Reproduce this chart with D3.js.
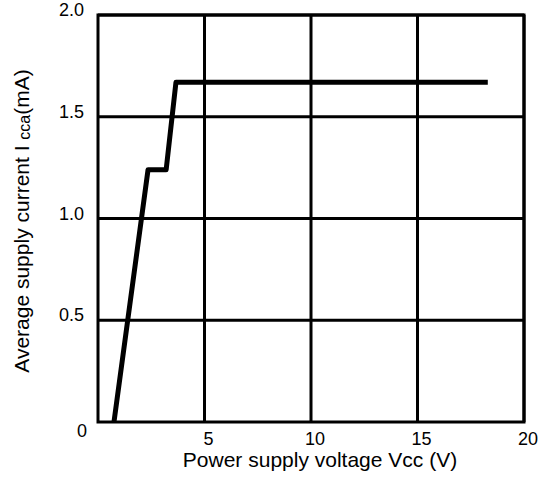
<!DOCTYPE html>
<html><head><meta charset="utf-8">
<script src="https://cdn.jsdelivr.net/npm/d3@7"></script>
<style>body{margin:0;background:#fff}svg{display:block}text{font-family:"Liberation Sans",Arial,sans-serif;fill:#000}</style>
</head><body><svg id="c" width="544" height="479"></svg>
<script>
const voltage = [0.75, 2.35, 3.2, 3.66, 18.3];
const current = [0, 1.24, 1.24, 1.67, 1.67];
const xTicks = [5, 10, 15, 20];
const yTicks = [0.5, 1.0, 1.5, 2.0];
const yTickLabels = ["0.5", "1.0", "1.5", "2.0"];

const svg = d3.select("#c");
const x = d3.scaleLinear().domain([0, 20]).range([98, 524]);
const y = d3.scaleLinear().domain([0, 2]).range([422, 15]);

// grid
svg.append("g").selectAll("line").data(xTicks).join("line")
  .attr("x1", d => x(d)).attr("x2", d => x(d)).attr("y1", y(0)).attr("y2", y(2))
  .attr("stroke", "#000").attr("stroke-width", 3);
svg.append("g").selectAll("line").data(yTicks).join("line")
  .attr("x1", x(0)).attr("x2", x(20)).attr("y1", d => y(d)).attr("y2", d => y(d))
  .attr("stroke", "#000").attr("stroke-width", 3);
svg.append("rect").attr("x", x(0)).attr("y", y(2)).attr("width", x(20) - x(0)).attr("height", y(0) - y(2))
  .attr("fill", "none").attr("stroke", "#000").attr("stroke-width", 3);

// data line
const pts = voltage.map((v, i) => [v, current[i]]);
svg.append("path").datum(pts)
  .attr("d", d3.line().x(d => x(d[0])).y(d => y(d[1])))
  .attr("fill", "none").attr("stroke", "#000").attr("stroke-width", 5)
  .attr("stroke-linejoin", "round");

// tick labels
svg.append("g").selectAll("text").data(xTicks).join("text")
  .attr("x", d => x(d) + 4).attr("y", 445).attr("text-anchor", "middle")
  .attr("font-size", 18).text(d => d);
svg.append("g").selectAll("text").data(yTicks).join("text")
  .attr("x", 84).attr("y", d => y(d) + 1).attr("text-anchor", "end")
  .attr("font-size", 18).text((d, i) => yTickLabels[i]);
svg.append("text").attr("x", 82).attr("y", 437).attr("text-anchor", "middle")
  .attr("font-size", 18).text("0");

// axis titles
const xt = svg.append("text").attr("x", 320).attr("y", 467).attr("text-anchor", "middle").attr("font-size", 21);
xt.append("tspan").text("Power supply voltage V");
xt.append("tspan").text("cc");
xt.append("tspan").text(" (V)");

const yt = svg.append("text").attr("transform", "translate(29,221) rotate(-90)")
  .attr("text-anchor", "middle").attr("font-size", 21);
yt.append("tspan").text("Average supply current I ");
yt.append("tspan").attr("font-size", 16).attr("dy", 1).text("cca");
yt.append("tspan").attr("dy", -1).text("(mA)");
</script></body></html>
